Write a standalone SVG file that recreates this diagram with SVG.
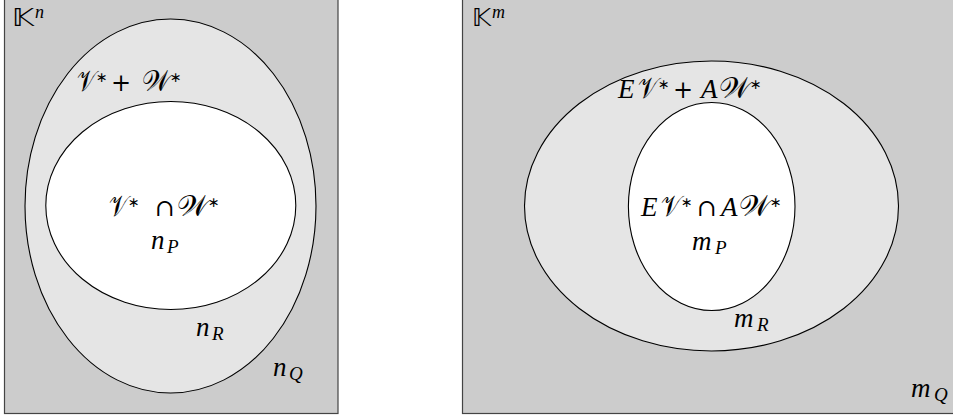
<svg xmlns="http://www.w3.org/2000/svg" width="953" height="419" viewBox="0 0 953 419">
<style>
.box{fill:#cccccc;stroke:#444444;stroke-width:1.2}
.mid{fill:#e5e5e5;stroke:#000;stroke-width:1.1}
.in{fill:#ffffff;stroke:#000;stroke-width:1.1}
text{font-family:"Liberation Serif","DejaVu Serif",serif;font-style:italic;fill:#000;font-size:27px}
.sc{font-size:29px;font-style:normal}
.sub{font-size:19px}
.up{font-size:14px;font-style:normal;font-family:"DejaVu Sans",sans-serif}
.op{font-style:normal;font-family:"DejaVu Serif",serif;font-size:24px}
.bb{font-style:normal;font-family:"DejaVu Sans","Noto Sans",sans-serif;font-size:25px}
.up2{font-size:18px}
</style>
<rect width="953" height="419" fill="#ffffff"/>
<g id="space-n">
<rect class="box" x="4.5" y="-2" width="333.5" height="415.5"/>
<text y="26"><tspan class="bb" x="12" textLength="22" lengthAdjust="spacingAndGlyphs">𝕂</tspan><tspan class="up2" x="35" y="18">n</tspan></text>
</g>
<g id="sum-n">
<ellipse class="mid" cx="170.5" cy="206" rx="145.5" ry="187"/>
<text y="91"><tspan class="sc" x="77" textLength="19" lengthAdjust="spacingAndGlyphs">𝒱</tspan><tspan class="up" x="96" y="82">∗</tspan><tspan class="op" x="111" y="91">+</tspan><tspan class="sc" x="142" textLength="28" lengthAdjust="spacingAndGlyphs">𝒲</tspan><tspan class="up" x="170" y="82">∗</tspan></text>
<text y="336"><tspan x="196">n</tspan><tspan class="sub" x="212" y="340">R</tspan></text>
<text y="376"><tspan x="273">n</tspan><tspan class="sub" x="289" y="380">Q</tspan></text>
</g>
<g id="cap-n">
<ellipse class="in" cx="170.8" cy="205.5" rx="125" ry="104"/>
<text y="216"><tspan class="sc" x="109" textLength="19" lengthAdjust="spacingAndGlyphs">𝒱</tspan><tspan class="up" x="128" y="207">∗</tspan><tspan class="op" x="155" y="216">∩</tspan><tspan class="sc" x="177" textLength="31" lengthAdjust="spacingAndGlyphs">𝒲</tspan><tspan class="up" x="208" y="207">∗</tspan></text>
<text y="249"><tspan x="151">n</tspan><tspan class="sub" x="167" y="253">P</tspan></text>
</g>
<g id="space-m">
<rect class="box" x="462.5" y="-2" width="495" height="415.5"/>
<text y="26"><tspan class="bb" x="472" textLength="19" lengthAdjust="spacingAndGlyphs">𝕂</tspan><tspan class="up2" x="492" y="18">m</tspan></text>
<text y="397"><tspan x="911">m</tspan><tspan class="sub" x="934" y="401">Q</tspan></text>
</g>
<g id="sum-m">
<ellipse class="mid" cx="711.5" cy="206" rx="187" ry="145"/>
<text y="98"><tspan x="618">E</tspan><tspan class="sc" x="638" textLength="20" lengthAdjust="spacingAndGlyphs">𝒱</tspan><tspan class="up" x="658" y="89">∗</tspan><tspan class="op" x="673" y="98">+</tspan><tspan x="701">A</tspan><tspan class="sc" x="719" textLength="31" lengthAdjust="spacingAndGlyphs">𝒲</tspan><tspan class="up" x="750" y="89">∗</tspan></text>
<text y="327"><tspan x="734">m</tspan><tspan class="sub" x="757" y="331">R</tspan></text>
</g>
<g id="cap-m">
<ellipse class="in" cx="711.7" cy="206.5" rx="83.3" ry="104"/>
<text y="216"><tspan x="641">E</tspan><tspan class="sc" x="661" textLength="20" lengthAdjust="spacingAndGlyphs">𝒱</tspan><tspan class="up" x="681" y="207">∗</tspan><tspan class="op" x="697" y="216">∩</tspan><tspan x="721">A</tspan><tspan class="sc" x="739" textLength="31" lengthAdjust="spacingAndGlyphs">𝒲</tspan><tspan class="up" x="770" y="207">∗</tspan></text>
<text y="250"><tspan x="692">m</tspan><tspan class="sub" x="715" y="254">P</tspan></text>
</g>
</svg>
